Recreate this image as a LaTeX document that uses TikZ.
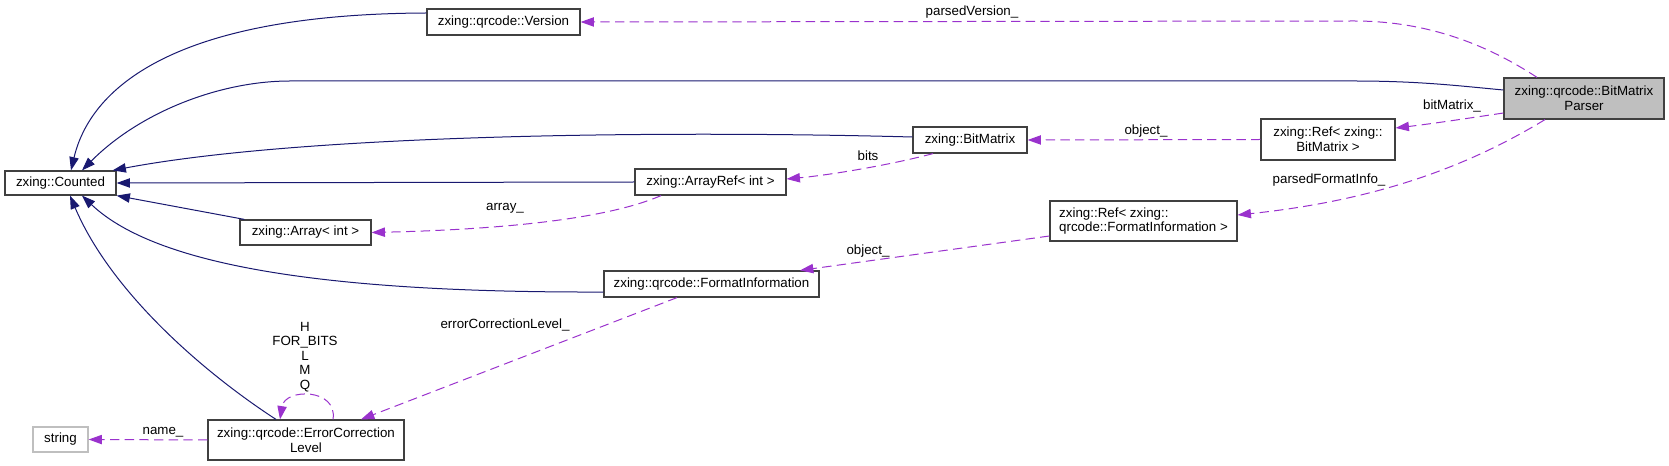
\documentclass[tikz,border=0pt]{standalone}
\usepackage{fontspec}
\setmainfont{Liberation Sans}
\usepackage{tikz}
\usetikzlibrary{arrows.meta,calc}
\definecolor{inhblue}{HTML}{191970}
\definecolor{useviolet}{HTML}{9A32CD}
\definecolor{boxline}{HTML}{404040}
\definecolor{boxgray}{HTML}{BFBFBF}
\tikzset{
  cls/.style={draw=boxline,line width=0.9pt,fill=white,align=center,inner sep=2pt,
    font=\fontsize{10}{11}\selectfont},
  sz/.style 2 args={minimum width=#1*0.75pt,minimum height=#2*0.75pt},
  inh/.style={{Triangle[length=10pt,width=7pt]}-,line width=0.75pt,draw=inhblue},
  usage/.style={-{Triangle[length=10pt,width=7pt]},line width=0.75pt,draw=useviolet,
    dash pattern=on 7pt off 4pt},
  lbl/.style={font=\fontsize{10}{10.9}\selectfont,inner sep=0pt,align=center}
}

\begin{document}
\begin{tikzpicture}[x=0.75pt,y=-0.75pt]
 \useasboundingbox (0,0) rectangle (1669,466);
 % classes
 \node[cls,sz={153}{26}] (ver) at (503.5,22) {zxing::qrcode::Version};
 \node[cls,sz={160}{41},fill=boxgray] (bmp) at (1584,98.5) {zxing::qrcode::BitMatrix\\Parser};
 \node[cls,sz={111}{24}] (cnt) at (60.5,183) {zxing::Counted};
 \node[cls,sz={114}{26}] (bm) at (970,140) {zxing::BitMatrix};
 \node[cls,sz={134}{41}] (refbm) at (1328,139.5) {zxing::Ref< zxing::\\BitMatrix >};
 \node[cls,sz={151}{26}] (aref) at (710.5,182) {zxing::ArrayRef< int >};
 \node[cls,sz={131}{25}] (arr) at (305.5,232.5) {zxing::Array< int >};
 \node[cls,sz={187}{40},align=left] (reffi) at (1143.5,221) {zxing::Ref< zxing::\\qrcode::FormatInformation >};
 \node[cls,sz={215}{26}] (fi) at (711.5,284) {zxing::qrcode::FormatInformation};
 \node[cls,sz={196}{40}] (ecl) at (306,440) {zxing::qrcode::ErrorCorrection\\Level};
 \node[cls,sz={55}{25},draw=boxgray] (str) at (60.5,439.5) {string};
 % inheritance
 \draw[inh] ($(cnt.north)+(10.5,0)$) .. controls (90,90) and (170,14) .. ($(ver.west)+(0,-9)$);
 \draw[inh] ($(cnt.north)+(21.5,0)$) .. controls (140,112) and (220,81) .. (290,81) -- (1354,81)
   .. controls (1420,81) and (1460,86) .. ($(bmp.west)+(0,-8.5)$);
 \draw[inh] ($(cnt.north east)+(-4,0)$) .. controls (300,135) and (650,130) .. ($(bm.west)+(0,-3)$);
 \draw[inh] (cnt.east) -- (aref.west);
 \draw[inh] (cnt.south east) -- ($(arr.north west)+(5,0)$);
 \draw[inh] ($(cnt.south)+(21.5,0)$) .. controls (150,260) and (300,293) .. ($(fi.west)+(0,8)$);
 \draw[inh] ($(cnt.south)+(9.5,0)$) .. controls (110,290) and (200,370) .. ($(ecl.north)+(-30,0)$);
 % members
 \draw[usage] ($(bmp.north)+(-47,0)$) .. controls (1480,40) and (1420,21) .. (1354,21) -- (ver.east);
 \draw[usage] ($(bmp.west)+(0,14.5)$) .. controls (1470,118) and (1430,124) .. ($(refbm.east)+(0,-11.5)$);
 \draw[usage] (refbm.west) -- (bm.east);
 \draw[usage] ($(bm.south)+(-37,0)$) .. controls (890,165) and (830,175) .. ($(aref.east)+(0,-3)$);
 \draw[usage] ($(aref.south)+(-49.5,0)$) .. controls (600,222) and (480,230) .. (arr.east);
 \draw[usage] ($(bmp.south)+(-39,0)$) .. controls (1470,165) and (1380,200) .. ($(reffi.east)+(0,-6)$);
 \draw[usage] ($(reffi.west)+(0,15)$) -- ($(fi.north)+(88.5,0)$);
 \draw[usage] ($(fi.south)+(-34.5,0)$) -- ($(ecl.north)+(55,0)$);
 \draw[usage] ($(ecl.north)+(27,0)$) .. controls (338,388) and (285,388) .. ($(ecl.north)+(-26,0)$);
 \draw[usage] (ecl.west) -- (str.east);
 % labels
 \node[lbl] (lpv) at (972,12) {parsedVersion\_};
 \node[lbl] (lbmx) at (1452,106) {bitMatrix\_};
 \node[lbl] (lobj) at (1146,131) {object\_};
 \node[lbl] (lbits) at (868,156) {bits};
 \node[lbl] (larr) at (505,208) {array\_};
 \node[lbl] (lpfi) at (1329,180) {parsedFormatInfo\_};
 \node[lbl] (lobjfi) at (868,251) {object\_};
 \node[lbl] (lecl) at (505,325) {errorCorrectionLevel\_};
 \node[lbl] (lvals) at (305,357) {H\\FOR\_BITS\\L\\M\\Q};
 \node[lbl] (lname) at (163,432) {name\_};
\end{tikzpicture}
\end{document}
